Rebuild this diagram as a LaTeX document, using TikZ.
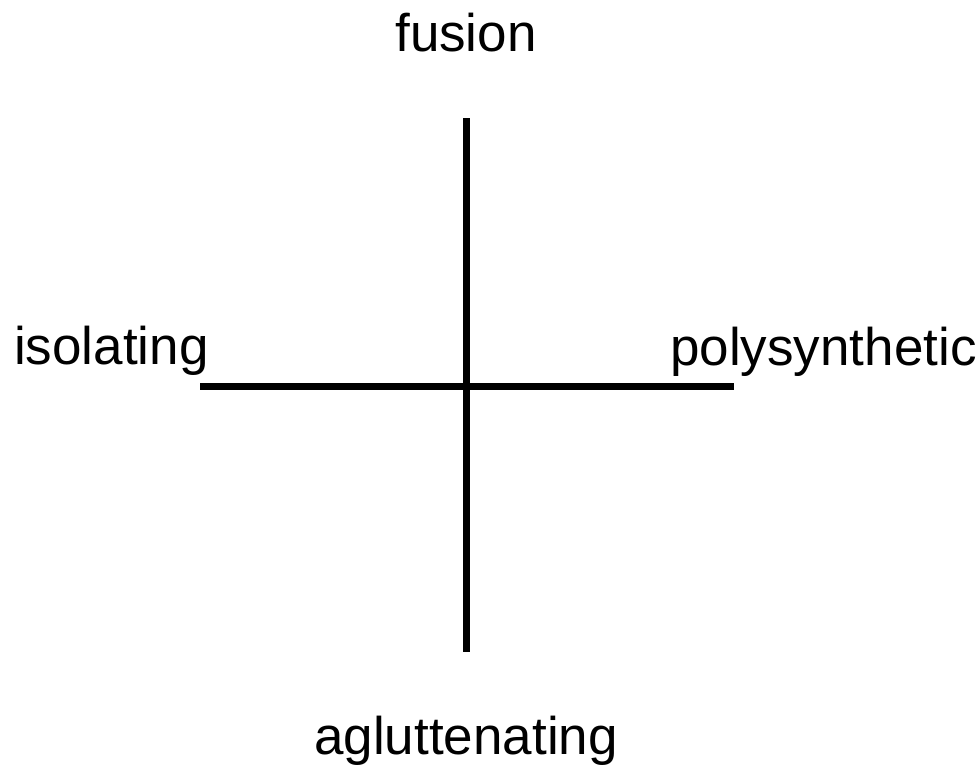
\documentclass[tikz,border=0pt]{standalone}
\usepackage{fontspec}
\setmainfont{Liberation Sans}
\begin{document}
\begin{tikzpicture}[x=1pt,y=-1pt,
  lbl/.style={inner sep=0pt,font=\fontsize{53}{62}\selectfont},
  axis/.style={line width=7pt,black}]
\useasboundingbox (0,0) rectangle (980,764);
\coordinate (top) at (466,118);
\coordinate (bot) at (466,652);
\coordinate (lft) at (200,386);
\coordinate (rgt) at (734,386);
\draw[axis] (top) -- (bot);
\draw[axis] (lft) -- (rgt);
\node[lbl,anchor=base] (fus) at (466,51) {fusion};
\node[lbl,anchor=base west] (iso) at (14,364) {isolating};
\node[lbl,anchor=base west] (pol) at (670,365) {polysynthetic};
\node[lbl,anchor=base] (agl) at (466,754) {agluttenating};
\end{tikzpicture}
\end{document}
